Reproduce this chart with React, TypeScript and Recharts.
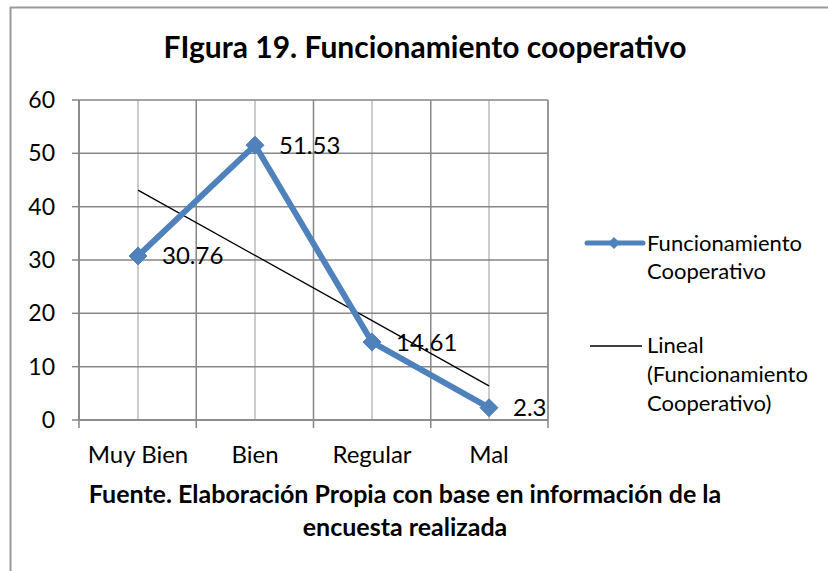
import { LineChart, Line, XAxis, YAxis, CartesianGrid, LabelList } from 'recharts';

const categories = ['Muy Bien', 'Bien', 'Regular', 'Mal'];
const funcionamiento = [30.76, 51.53, 14.61, 2.3];
// linear trend line: its two end points
const lineal = [43.1, null, null, 6.4];
const yTicks = [0, 10, 20, 30, 40, 50, 60];
// category boundaries, in category-index units
const boundaryTicks = [-0.5, 0.5, 1.5, 2.5, 3.5];

const BLUE = '#4f81bd';
const GRID = '#868686';
const GRID_LIGHT = '#bdbdbd';
const FONT = 'Lato, "Open Sans", sans-serif';

const data = categories.map((cat, i) => ({
  cat,
  idx: i,
  value: funcionamiento[i],
  trend: lineal[i],
}));

const Diamond = (props: any) => {
  const { cx, cy } = props;
  if (cx == null || cy == null) return null;
  const r = 9;
  return (
    <path
      d={`M${cx},${cy - r}L${cx + r},${cy}L${cx},${cy + r}L${cx - r},${cy}Z`}
      fill={BLUE}
      stroke={BLUE}
      strokeWidth={1}
    />
  );
};

export default function App() {
  return (
    <div style={{ position: 'absolute', left: 0, top: 0, width: 828, height: 571, background: '#fff', overflow: 'hidden', fontFamily: FONT }}>
      <LineChart
        width={828}
        height={571}
        data={data}
        margin={{ top: 100, right: 280, bottom: 100, left: 0 }}
      >
        {/* light grid at category centres */}
        <CartesianGrid xAxisId="cat" horizontal={false} stroke={GRID_LIGHT} strokeWidth={1.5} />
        {/* dark grid: value lines + category boundaries */}
        <CartesianGrid xAxisId="bnd" stroke={GRID} strokeWidth={1.5} />
        <XAxis
          xAxisId="bnd"
          dataKey="idx"
          type="number"
          scale="linear"
          domain={[-0.5, 3.5]}
          allowDataOverflow
          ticks={boundaryTicks}
          height={1}
          axisLine={{ stroke: GRID, strokeWidth: 1.5 }}
          tickLine={{ stroke: GRID, strokeWidth: 1.5 }}
          tickSize={8}
          tickFormatter={() => ''}
        />
        <XAxis
          xAxisId="cat"
          dataKey="cat"
          height={50}
          padding={{ left: 59, right: 59 }}
          axisLine={false}
          tickLine={false}
          tickSize={0}
          tickMargin={25}
          tick={{ fill: '#000', fontSize: 24, fontFamily: FONT }}
          interval={0}
        />
        <YAxis
          domain={[0, 60]}
          ticks={yTicks}
          width={79}
          axisLine={{ stroke: GRID, strokeWidth: 1.5 }}
          tickLine={{ stroke: GRID, strokeWidth: 1.5 }}
          tickSize={7}
          tickMargin={17}
          tick={{ fill: '#000', fontSize: 23, fontFamily: FONT }}
        />
        <Line
          xAxisId="cat"
          dataKey="trend"
          stroke="#000"
          strokeWidth={1.3}
          dot={false}
          connectNulls
          isAnimationActive={false}
        />
        <Line
          xAxisId="cat"
          dataKey="value"
          stroke={BLUE}
          strokeWidth={6}
          dot={<Diamond />}
          isAnimationActive={false}
        >
          <LabelList
            dataKey="value"
            position="right"
            offset={24}
            style={{ fill: '#000', fontSize: 24, fontFamily: FONT }}
          />
        </Line>
      </LineChart>

      <svg width={828} height={571} style={{ position: 'absolute', left: 0, top: 0, pointerEvents: 'none' }}>
        {/* chart frame */}
        <line x1={10.5} y1={7} x2={10.5} y2={571} stroke="#9a9a9a" strokeWidth={2} />
        <line x1={10} y1={7.5} x2={828} y2={7.5} stroke="#9a9a9a" strokeWidth={2} />

        <text x={425} y={58} textAnchor="middle" fontFamily={FONT} fontWeight="bold" fontSize={30} fill="#000">
          FIgura 19. Funcionamiento cooperativo
        </text>

        {/* legend */}
        <line x1={587} y1={243} x2={643} y2={243} stroke={BLUE} strokeWidth={5} strokeLinecap="round" />
        <path d="M614,237L620,243L614,249L608,243Z" fill={BLUE} />
        <text fontFamily={FONT} fontSize={22} fill="#000">
          <tspan x={647} y={251}>Funcionamiento</tspan>
          <tspan x={647} y={279}>Cooperativo</tspan>
        </text>
        <line x1={590} y1={346} x2={642} y2={346} stroke="#000" strokeWidth={1.3} />
        <text fontFamily={FONT} fontSize={22} fill="#000">
          <tspan x={647} y={353}>Lineal</tspan>
          <tspan x={647} y={382}>(Funcionamiento</tspan>
          <tspan x={647} y={411}>Cooperativo)</tspan>
        </text>

        {/* source note */}
        <text textAnchor="middle" fontFamily={FONT} fontWeight="bold" fontSize={25} fill="#000">
          <tspan x={405} y={503}>Fuente. Elaboración Propia con base en información de la</tspan>
          <tspan x={405} y={536}>encuesta realizada</tspan>
        </text>
      </svg>
    </div>
  );
}
